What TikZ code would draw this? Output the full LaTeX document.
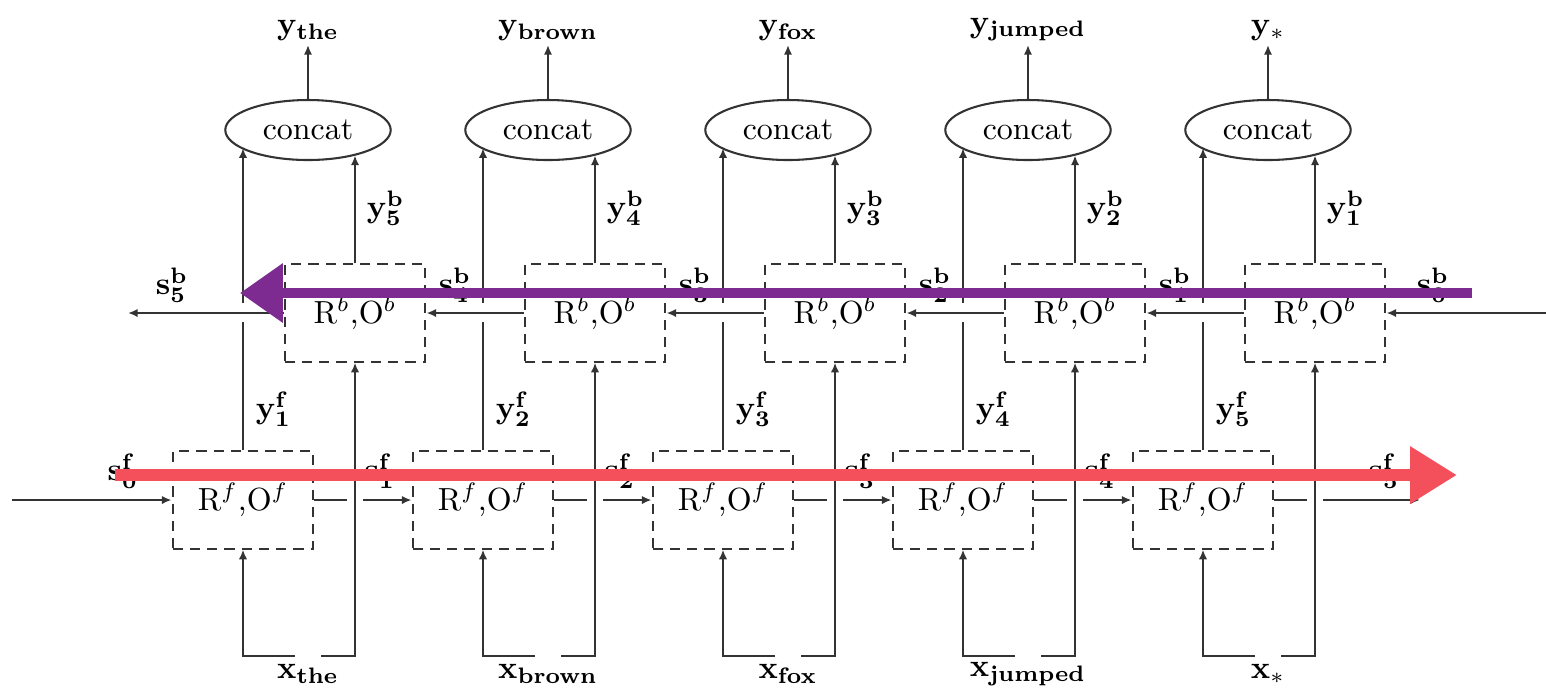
\documentclass[tikz,border=0pt]{standalone}
\usepackage{xcolor}
\definecolor{fwdRed}{HTML}{F4505C}
\definecolor{bwdPurple}{HTML}{7D2B91}
\usepackage{amsmath,amssymb}
\usepackage{tikz}
\usetikzlibrary{arrows.meta,shapes.geometric,calc}

\begin{document}
\begin{tikzpicture}[x=0.011cm, y=-0.011cm,
    every node/.style={font=\normalsize},
    cell/.style={draw=black!80, dash pattern=on 3.2pt off 2.2pt, line width=0.65pt,
                 minimum width=1.55cm, minimum height=1.07cm, inner sep=0pt},
    cat/.style={draw=black!80, ellipse, line width=0.65pt,
                minimum width=1.82cm, minimum height=0.66cm, inner sep=0pt},
    lbl/.style={inner sep=1pt},
    ln/.style={draw=black!80, line width=0.65pt},
    arr/.style={-{Latex[length=3pt,width=2.6pt]}, draw=black!80, line width=0.65pt},
    fwdpass/.style={draw=fwdRed, line width=3.8pt, -{Triangle[length=14.7pt,width=17pt]}},
    bwdpass/.style={draw=bwdPurple, line width=3.2pt, -{Triangle[length=13.4pt,width=17.8pt]}}]
  \useasboundingbox (0,0) rectangle (1546,690);
  % one column per word
  \foreach \i/\w/\r in {1/the/5,2/brown/4,3/fox/3,4/jumped/2,5/*/1}{
    \pgfmathsetmacro\xf{243+240*(\i-1)}
    \pgfmathsetmacro\xb{\xf+112}
    \pgfmathsetmacro\xc{\xf+65}
    \node[cell] (f\i) at (\xf,500) {$\mathrm{R}^f$,$\mathrm{O}^f$};
    \node[cell] (b\i) at (\xb,313) {$\mathrm{R}^b$,$\mathrm{O}^b$};
    \node[cat] (c\i) at (\xc,130) {concat};
    \node[lbl, anchor=south] (y\i) at (\xc,45) {$\mathbf{y}_{\mathbf{\w}}$};
    \node[lbl] (x\i) at (\xc,674) {$\mathbf{x}_{\mathbf{\w}}$};
    \node[lbl, anchor=west] (yf\i) at (\xf+9,409) {$\mathbf{y}^{\mathbf{f}}_{\mathbf{\i}}$};
    \node[lbl, anchor=west] (yb\i) at (\xb+8,208) {$\mathbf{y}^{\mathbf{b}}_{\mathbf{\r}}$};
    \coordinate (xl\i) at (\xc-13,656);
    \coordinate (xr\i) at (\xc+13,656);
    \draw[arr] (xl\i) -| (f\i.south);
    \draw[arr] (xr\i) -| (b\i.south);
    \draw[arr] (b\i.north) -- (b\i.north |- c\i.332);
    \draw[ln] (f\i.north) -- ($(f\i.north |- b\i.west)+(0,9)$);
    \draw[arr] ($(f\i.north |- b\i.west)+(0,-10)$) -- (f\i.north |- c\i.195);
    \draw[arr] (c\i) -- (y\i);
    \draw[ln] (f\i.east) -- ($(b\i.south |- f\i.east)+(-8,0)$);
  }
  % states between columns
  \foreach \i/\j/\k in {1/2/4,2/3/3,3/4/2,4/5/1}{
    \draw[arr] ($(b\i.south |- f\i.east)+(8,0)$) -- (f\j.west);
    \draw[arr] (b\j.west) -- (b\i.east);
    \node[lbl] (sf\i) at ($(b\i.south |- f\i.east)+(25,-29)$) {$\mathbf{s}^{\mathbf{f}}_{\mathbf{\i}}$};
    \node[lbl] (sb\k) at ($(f\j.north |- b\j.west)+(-28,-28)$) {$\mathbf{s}^{\mathbf{b}}_{\mathbf{\k}}$};
  }
  \coordinate (fin) at (12,500);
  \coordinate (fout) at (1420,500);
  \coordinate (bin) at (1546,313);
  \coordinate (bout) at (128,313);
  \node[lbl] (sf0) at (123,471) {$\mathbf{s}^{\mathbf{f}}_{\mathbf{0}}$};
  \node[lbl] (sf5) at (1384,471) {$\mathbf{s}^{\mathbf{f}}_{\mathbf{5}}$};
  \node[lbl] (sb5) at (172,285) {$\mathbf{s}^{\mathbf{b}}_{\mathbf{5}}$};
  \node[lbl] (sb0) at (1433,285) {$\mathbf{s}^{\mathbf{b}}_{\mathbf{0}}$};
  \draw[arr] (fin) -- (f1.west);
  \draw[arr] ($(b5.south |- f5.east)+(8,0)$) -- (fout);
  \draw[arr] (bin) -- (b5.east);
  \draw[arr] (b1.west) -- (bout);
  % highlighted passes
  \coordinate (rs) at (115,475);
  \coordinate (re) at (1457,475);
  \coordinate (ps) at (1472,293);
  \coordinate (pe) at (240,293);
  \draw[fwdpass] (rs) -- (re);
  \draw[bwdpass] (ps) -- (pe);
\end{tikzpicture}
\end{document}
